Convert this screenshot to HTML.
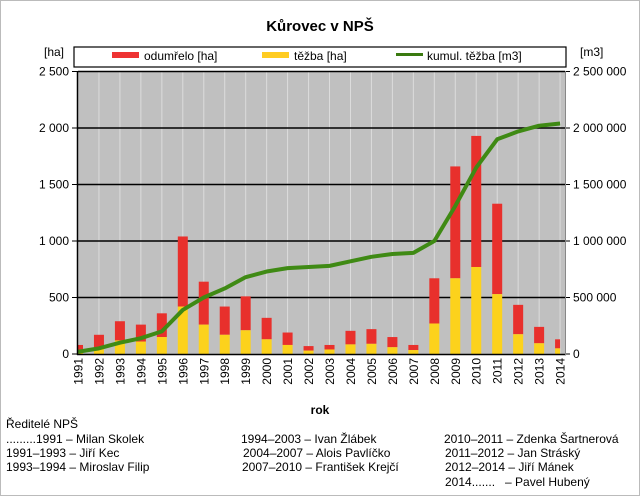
<!DOCTYPE html>
<html><head><meta charset="utf-8"><style>
body{margin:0;background:#fff}
svg{display:block;font-family:"Liberation Sans",sans-serif}
</style></head><body>
<svg width="640" height="496" xmlns="http://www.w3.org/2000/svg">
<rect x="0.5" y="0.5" width="639" height="495" fill="#fff" stroke="#bbb"/>
<text x="320" y="31" font-size="15" font-weight="bold" text-anchor="middle">Kůrovec v NPŠ</text>
<rect x="74" y="47" width="492" height="20" fill="#fff" stroke="#000" stroke-width="1.2"/>
<rect x="112" y="52" width="27" height="6" fill="#e33"/>
<text x="144" y="60" font-size="12">odumřelo [ha]</text>
<rect x="262" y="52" width="27" height="6" fill="#fc2"/>
<text x="294" y="60" font-size="12">těžba [ha]</text>
<rect x="396" y="53" width="27" height="3" fill="#3a7a10"/>
<text x="427" y="60" font-size="12">kumul. těžba [m3]</text>
<text x="44" y="56" font-size="12">[ha]</text>
<text x="580" y="56" font-size="12">[m3]</text>
<rect x="78" y="71" width="487" height="283" fill="#c0c0c0"/>
<g id="g"></g>
<line x1="77.5" y1="71" x2="77.5" y2="355" stroke="#000" stroke-width="1.5"/>
<line x1="565.5" y1="71" x2="565.5" y2="355" stroke="#888" stroke-width="1"/>
</svg>
<script>
const g=document.getElementById('g'),NS='http://www.w3.org/2000/svg';
function el(t,a,txt){const e=document.createElementNS(NS,t);for(const k in a)e.setAttribute(k,a[k]);if(txt!=null)e.textContent=txt;g.appendChild(e);return e;}
const y0=354,k=56.5/500,x0=78,dx=20.96;
const tot=[80,170,290,260,360,1040,640,420,510,320,190,70,80,205,220,150,80,670,1660,1930,1330,435,240,130];
const yel=[10,60,120,110,150,420,260,170,210,130,80,30,40,85,90,60,35,270,670,770,530,175,95,50];
const cum=[20,50,100,140,200,390,500,580,680,730,760,770,780,820,860,885,895,1000,1310,1650,1900,1970,2020,2040];
for(let i=0;i<24;i++){const x=x0+i*dx;el('line',{x1:x,y1:71,x2:x,y2:354,stroke:'#dcdcdc','stroke-width':1});}
for(let v=0;v<=2500;v+=500){const y=y0-v*k;
 if(v>0)el('line',{x1:78,y1:y,x2:565,y2:y,stroke:'#000','stroke-width':1.5});
 el('line',{x1:72,y1:y,x2:78,y2:y,stroke:'#000'});
 el('line',{x1:565,y1:y,x2:570,y2:y,stroke:'#000'});
 el('text',{x:69,y:y+4,'font-size':12,'text-anchor':'end'},v?(v>=1000?Math.floor(v/1000)+' '+String(v%1000).padStart(3,'0'):String(v)):'0');
 const r=v*1000;el('text',{x:573,y:y+4,'font-size':12},r?String(r).replace(/\B(?=(\d{3})+(?!\d))/g,' '):'0');
}
for(let i=0;i<24;i++){const x=x0+i*dx;let l=x-5,w=10;if(i==0){l=78;w=5}if(i==23){w=5;}
 el('rect',{x:l,y:y0-tot[i]*k,width:w,height:(tot[i]-yel[i])*k,fill:'#e8302c'});
 el('rect',{x:l,y:y0-yel[i]*k,width:w,height:yel[i]*k,fill:'#fcd21c'});
 el('text',{transform:`translate(${x+4.5},358) rotate(-90)`,'font-size':12,'text-anchor':'end'},String(1991+i));
}
el('polyline',{points:cum.map((c,i)=>(x0+i*dx)+','+(y0-c*k)).join(' '),fill:'none',stroke:'#3f8a14','stroke-width':4,'stroke-linejoin':'round'});
el('line',{x1:77,y1:354.5,x2:566,y2:354.5,stroke:'#000','stroke-width':1.5});
el('text',{x:320,y:414,'font-size':12,'font-weight':'bold','text-anchor':'middle'},'rok');
const rows=[[6,428,'Ředitelé NPŠ'],[6,443,'.........1991 – Milan Skolek'],[6,457,'1991–1993 – Jiří Kec'],[6,471,'1993–1994 – Miroslav Filip'],
[241,443,'1994–2003 – Ivan Žlábek'],[243,457,'2004–2007 – Alois Pavlíčko'],[242,471,'2007–2010 – František Krejčí'],
[444,443,'2010–2011 – Zdenka Šartnerová'],[445,457,'2011–2012 – Jan Stráský'],[445,471,'2012–2014 – Jiří Mánek'],[445,486,'2014.......   – Pavel Hubený']];
rows.forEach(r=>{const t=el('text',{x:r[0],y:r[1],'font-size':12},r[2]);t.setAttribute('xml:space','preserve');t.style.whiteSpace='pre';});
</script>
</body></html>
